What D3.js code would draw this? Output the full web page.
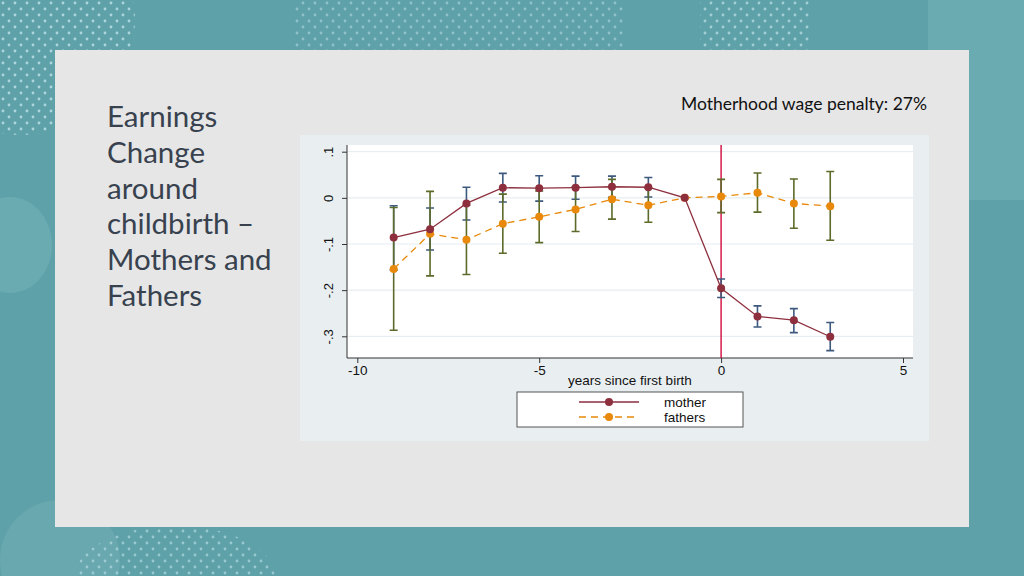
<!DOCTYPE html>
<html>
<head>
<meta charset="utf-8">
<script src="https://cdn.jsdelivr.net/npm/d3@7"></script>
<style>
  html, body { margin: 0; padding: 0; background: #5fa1a8; }
  svg { display: block; }
</style>
</head>
<body>
<svg id="chart"></svg>
<script>
// event-study estimates, years relative to first birth
const years = [-9, -8, -7, -6, -5, -4, -3, -2, -1, 0, 1, 2, 3];
const motherEst = [-0.086, -0.068, -0.012, 0.022, 0.021, 0.022, 0.024, 0.023, 0, -0.196, -0.257, -0.265, -0.301];
const motherLo = [-0.156, -0.113, -0.048, -0.009, -0.007, -0.003, 0.001, 0.002, null, -0.216, -0.280, -0.292, -0.331];
const motherHi = [-0.017, -0.022, 0.023, 0.053, 0.048, 0.047, 0.047, 0.044, null, -0.176, -0.234, -0.240, -0.270];
const fathersEst = [-0.154, -0.078, -0.091, -0.056, -0.041, -0.025, -0.003, -0.016, 0, 0.003, 0.011, -0.012, -0.018];
const fathersLo = [-0.287, -0.169, -0.166, -0.120, -0.097, -0.073, -0.046, -0.053, null, -0.032, -0.031, -0.066, -0.092];
const fathersHi = [-0.021, 0.014, -0.016, 0.008, 0.015, 0.024, 0.040, 0.021, null, 0.040, 0.054, 0.041, 0.057];
const xTicks = [-10, -5, 0, 5];
const yTicks = [0.1, 0, -0.1, -0.2, -0.3];
const yTickLabels = [".1", "0", "-.1", "-.2", "-.3"];
const titleLines = ["Earnings", "Change", "around", "childbirth \u2013", "Mothers and", "Fathers"];

const W = 1024, H = 576;
const svg = d3.select("#chart").attr("width", W).attr("height", H);

// ---- slide background ----
const defs = svg.append("defs");
defs.append("pattern")
  .attr("id", "dots").attr("width", 12).attr("height", 12)
  .attr("patternUnits", "userSpaceOnUse")
  .call(p => {
    p.append("circle").attr("cx", 3).attr("cy", 3).attr("r", 1.4).attr("fill", "#bfe3ea");
    p.append("circle").attr("cx", 9).attr("cy", 9).attr("r", 1.4).attr("fill", "#bfe3ea");
  });

svg.append("rect").attr("width", W).attr("height", H).attr("fill", "#5fa1a8");
// lighter blobs
svg.append("rect").attr("x", 928).attr("y", 0).attr("width", 96).attr("height", 200).attr("fill", "#6aabb1");
svg.append("ellipse").attr("cx", 10).attr("cy", 245).attr("rx", 42).attr("ry", 48).attr("fill", "#6aabb1");
svg.append("ellipse").attr("cx", 60).attr("cy", 560).attr("rx", 60).attr("ry", 60).attr("fill", "#68a8ae");
// dotted patches
svg.append("circle").attr("cx", 20).attr("cy", 20).attr("r", 115).attr("fill", "url(#dots)").attr("opacity", 0.8);
svg.append("rect").attr("x", 295).attr("y", 0).attr("width", 330).attr("height", 50).attr("fill", "url(#dots)").attr("opacity", 0.5);
svg.append("rect").attr("x", 700).attr("y", 0).attr("width", 110).attr("height", 50).attr("fill", "url(#dots)").attr("opacity", 0.7);
svg.append("ellipse").attr("cx", 175).attr("cy", 576).attr("rx", 100).attr("ry", 50).attr("fill", "url(#dots)").attr("opacity", 0.6);

// panel
svg.append("rect").attr("x", 55).attr("y", 50).attr("width", 914).attr("height", 477).attr("fill", "#e6e6e6");

// slide title
svg.append("g")
  .selectAll("text")
  .data(titleLines)
  .enter()
  .append("text")
  .attr("x", 107)
  .attr("y", (d, i) => 127 + i * 35.8)
  .attr("font-family", "Lato, 'Open Sans', sans-serif")
  .attr("font-size", 29.5)
  .attr("fill", "#38424f")
  .text(d => d);

svg.append("text")
  .attr("x", 927).attr("y", 110)
  .attr("text-anchor", "end")
  .attr("font-family", "Lato, 'Open Sans', sans-serif")
  .attr("font-size", 17.5)
  .attr("fill", "#111")
  .text("Motherhood wage penalty: 27%");

// ---- chart ----
const dims = {
  graph: { x: 300, y: 135, w: 629, h: 306 },
  plot: { left: 347, top: 145, right: 913, bottom: 358 },
};

svg.append("rect")
  .attr("x", dims.graph.x).attr("y", dims.graph.y)
  .attr("width", dims.graph.w).attr("height", dims.graph.h)
  .attr("fill", "#e9eff1");

svg.append("rect")
  .attr("x", dims.plot.left).attr("y", dims.plot.top)
  .attr("width", dims.plot.right - dims.plot.left)
  .attr("height", dims.plot.bottom - dims.plot.top)
  .attr("fill", "#ffffff");

const xScale = d3.scaleLinear().domain([-10, 5]).range([357.3, 903]);
const yScale = d3.scaleLinear().domain([0.1, -0.3]).range([151.7, 336.3]);

// grid
svg.append("g")
  .selectAll("line")
  .data(yTicks)
  .enter()
  .append("line")
  .attr("x1", dims.plot.left + 1).attr("x2", dims.plot.right)
  .attr("y1", d => yScale(d)).attr("y2", d => yScale(d))
  .attr("stroke", "#e6eef1").attr("stroke-width", 1.2);

// axes
const axisFont = "'Liberation Sans', Arial, sans-serif";
svg.append("g")
  .attr("transform", `translate(0,${dims.plot.bottom})`)
  .call(d3.axisBottom(xScale).tickValues(xTicks).tickSize(5).tickSizeOuter(0).tickFormat(d3.format("d")))
  .call(g => {
    g.select("path.domain").attr("d", `M${dims.plot.left},0H${dims.plot.right}`).attr("stroke", "#333");
    g.selectAll(".tick line").attr("stroke", "#333");
    g.selectAll(".tick text")
      .attr("font-size", 13.5).attr("font-family", axisFont).attr("fill", "#111")
      .attr("y", 6).attr("dy", "0.8em")
      .text(d => (d < 0 ? "-" + Math.abs(d) : d));
  });

svg.append("g")
  .attr("transform", `translate(${dims.plot.left},0)`)
  .call(d3.axisLeft(yScale).tickValues(yTicks).tickSize(5).tickSizeOuter(0))
  .call(g => {
    g.select("path.domain").attr("d", `M0,${dims.plot.top}V${dims.plot.bottom}`).attr("stroke", "#333");
    g.selectAll(".tick line").attr("stroke", "#333");
    g.selectAll(".tick text")
      .attr("font-size", 13).attr("font-family", axisFont).attr("fill", "#111")
      .attr("x", null).attr("dy", null)
      .attr("text-anchor", "middle")
      .attr("transform", "translate(-14,0) rotate(-90)")
      .text((d, i) => yTickLabels[i]);
  });

svg.append("text")
  .attr("x", 630).attr("y", 384.5)
  .attr("text-anchor", "middle")
  .attr("font-size", 13.5).attr("font-family", axisFont).attr("fill", "#111")
  .text("years since first birth");

// red line at birth
svg.append("line")
  .attr("x1", xScale(0)).attr("x2", xScale(0))
  .attr("y1", dims.plot.top).attr("y2", dims.plot.bottom)
  .attr("stroke", "#d10a3c").attr("stroke-width", 1.4);

const series = [
  { name: "mother", est: motherEst, lo: motherLo, hi: motherHi, line: "#8e2f3e", dot: "#8e2f3e", ci: "#3d5a7e", dash: null },
  { name: "fathers", est: fathersEst, lo: fathersLo, hi: fathersHi, line: "#e8890b", dot: "#e8890b", ci: "#5c6b2a", dash: "7,5" },
];

// confidence intervals
series.forEach(s => {
  const ci = years.map((yr, i) => ({ yr, lo: s.lo[i], hi: s.hi[i] })).filter(d => d.lo !== null);
  const g = svg.append("g").attr("stroke", s.ci).attr("stroke-width", 1.6).attr("fill", "none");
  g.selectAll("path")
    .data(ci)
    .enter()
    .append("path")
    .attr("d", d => {
      const x = xScale(d.yr), y1 = yScale(d.hi), y2 = yScale(d.lo);
      return `M${x - 4},${y1}H${x + 4}M${x},${y1}V${y2}M${x - 4},${y2}H${x + 4}`;
    });
});

// lines + markers
[series[1], series[0]].forEach(s => {
  const pts = years.map((yr, i) => ({ yr, v: s.est[i] }));
  svg.append("path")
    .datum(pts)
    .attr("fill", "none")
    .attr("stroke", s.line)
    .attr("stroke-width", 1.3)
    .attr("stroke-dasharray", s.dash)
    .attr("d", d3.line().x(d => xScale(d.yr)).y(d => yScale(d.v)));
  svg.append("g")
    .selectAll("circle")
    .data(pts)
    .enter()
    .append("circle")
    .attr("cx", d => xScale(d.yr))
    .attr("cy", d => yScale(d.v))
    .attr("r", 4)
    .attr("fill", s.dot);
});

// legend
const legend = svg.append("g").attr("transform", "translate(517,392)");
legend.append("rect")
  .attr("width", 226).attr("height", 35)
  .attr("fill", "#ffffff").attr("stroke", "#555").attr("stroke-width", 1);
series.forEach((s, i) => {
  const row = legend.append("g").attr("transform", `translate(0,${10 + i * 15})`);
  row.append("line")
    .attr("x1", 62).attr("x2", 122).attr("y1", 0).attr("y2", 0)
    .attr("stroke", s.line).attr("stroke-width", 1.3)
    .attr("stroke-dasharray", s.dash);
  row.append("circle").attr("cx", 92).attr("cy", 0).attr("r", 4).attr("fill", s.dot);
  row.append("text")
    .attr("x", 147).attr("y", 4.5)
    .attr("font-size", 13.5).attr("font-family", axisFont).attr("fill", "#111")
    .text(s.name);
});
</script>
</body>
</html>
